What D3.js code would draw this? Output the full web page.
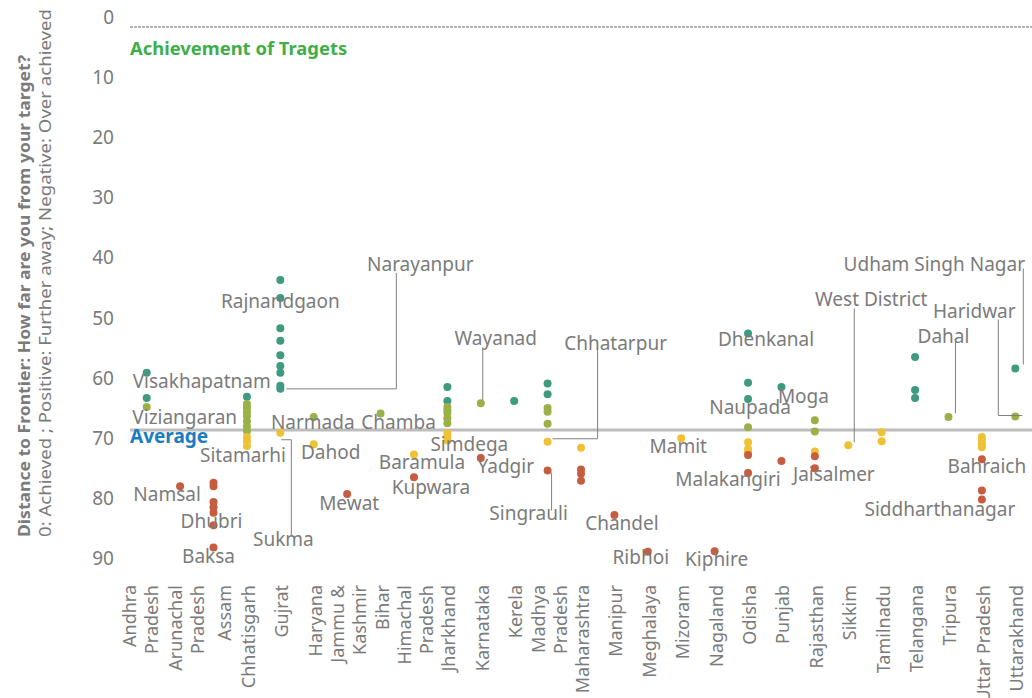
<!DOCTYPE html>
<html>
<head>
<meta charset="utf-8">
<script src="https://cdn.jsdelivr.net/npm/d3@7"></script>
<style>
  body { margin: 0; background: #fff; }
  svg text { font-family: "Noto Sans", sans-serif; }
</style>
</head>
<body>
<svg width="1032" height="698"></svg>
<script>
// states along the x axis
var states = ["Andhra Pradesh", "Arunachal Pradesh", "Assam", "Chhatisgarh", "Gujrat", "Haryana",
  "Jammu & Kashmir", "Bihar", "Himachal Pradesh", "Jharkhand", "Karnataka", "Kerela", "Madhya Pradesh",
  "Maharashtra", "Manipur", "Meghalaya", "Mizoram", "Nagaland", "Odisha", "Punjab", "Rajasthan",
  "Sikkim", "Tamilnadu", "Telangana", "Tripura", "Uttar Pradesh", "Uttarakhand"];

// district scores, one array per colour band
var band1 = [["Andhra Pradesh", 57.5], ["Andhra Pradesh", 61.7], ["Chhatisgarh", 61.5],
  ["Gujrat", 42.1], ["Gujrat", 45.1], ["Gujrat", 50.1], ["Gujrat", 52.2], ["Gujrat", 54.6],
  ["Gujrat", 56.4], ["Gujrat", 57.5], ["Gujrat", 59.7], ["Gujrat", 60.2],
  ["Jharkhand", 59.9], ["Jharkhand", 62.2], ["Kerela", 62.2], ["Madhya Pradesh", 59.3],
  ["Madhya Pradesh", 61.1], ["Odisha", 51.0], ["Odisha", 59.2], ["Odisha", 61.9], ["Punjab", 59.9],
  ["Telangana", 54.9], ["Telangana", 60.4], ["Telangana", 61.7], ["Uttarakhand", 56.8]];

var band2 = [["Andhra Pradesh", 63.2], ["Chhatisgarh", 62.7], ["Chhatisgarh", 63.4], ["Chhatisgarh", 64.1],
  ["Chhatisgarh", 64.7], ["Chhatisgarh", 65.6], ["Chhatisgarh", 66.4], ["Chhatisgarh", 67.2],
  ["Haryana", 64.9], ["Bihar", 64.3], ["Jharkhand", 63.2], ["Jharkhand", 63.7], ["Jharkhand", 64.2],
  ["Jharkhand", 65.1], ["Jharkhand", 65.9], ["Karnataka", 62.6], ["Madhya Pradesh", 63.4],
  ["Madhya Pradesh", 64.0], ["Madhya Pradesh", 66.0], ["Odisha", 66.6], ["Rajasthan", 65.4],
  ["Rajasthan", 67.3], ["Tripura", 64.9], ["Uttarakhand", 64.8]];

var band3 = [["Chhatisgarh", 68.2], ["Chhatisgarh", 68.9], ["Chhatisgarh", 69.7], ["Gujrat", 67.5],
  ["Haryana", 69.4], ["Himachal Pradesh", 71.1], ["Jharkhand", 67.6], ["Jharkhand", 68.2],
  ["Jharkhand", 68.8], ["Madhya Pradesh", 69.0], ["Maharashtra", 70.0], ["Mizoram", 68.4],
  ["Odisha", 69.1], ["Odisha", 70.2], ["Odisha", 70.7], ["Rajasthan", 70.6], ["Sikkim", 69.6],
  ["Tamilnadu", 67.4], ["Tamilnadu", 68.9], ["Uttar Pradesh", 68.2], ["Uttar Pradesh", 68.7],
  ["Uttar Pradesh", 69.4], ["Uttar Pradesh", 69.9]];

var band4 = [["Arunachal Pradesh", 76.4], ["Assam", 75.8], ["Assam", 76.4], ["Assam", 79.0], ["Assam", 79.9],
  ["Assam", 80.8], ["Assam", 82.9], ["Assam", 86.6], ["Jammu & Kashmir", 77.7], ["Himachal Pradesh", 74.9],
  ["Karnataka", 71.7], ["Madhya Pradesh", 73.8], ["Maharashtra", 73.6], ["Maharashtra", 74.3],
  ["Maharashtra", 75.5], ["Manipur", 81.2], ["Meghalaya", 87.3], ["Nagaland", 87.2], ["Odisha", 71.2],
  ["Odisha", 74.2], ["Punjab", 72.2], ["Rajasthan", 71.4], ["Rajasthan", 73.4], ["Uttar Pradesh", 71.9],
  ["Uttar Pradesh", 77.1], ["Uttar Pradesh", 78.6]];

var average = 67.05;
var yTicks = [0, 10, 20, 30, 40, 50, 60, 70, 80, 90];

// named districts: [name, state, score]
var districts = [
  ["Narayanpur", "Gujrat", 60.2], ["Rajnandgaon", "Gujrat", 45.1], ["Visakhapatnam", "Andhra Pradesh", 61.7],
  ["Viziangaran", "Andhra Pradesh", 63.2], ["Narmada", "Haryana", 64.9], ["Chamba", "Bihar", 64.3],
  ["Sitamarhi", "Chhatisgarh", 69.7], ["Dahod", "Haryana", 69.4], ["Namsal", "Arunachal Pradesh", 76.4],
  ["Mewat", "Jammu & Kashmir", 77.7], ["Dhubri", "Assam", 82.9], ["Baksa", "Assam", 86.6],
  ["Sukma", "Gujrat", 67.5], ["Wayanad", "Karnataka", 62.6], ["Chhatarpur", "Madhya Pradesh", 69.0],
  ["Simdega", "Jharkhand", 68.8], ["Yadgir", "Karnataka", 71.7], ["Baramula", "Himachal Pradesh", 71.1],
  ["Kupwara", "Himachal Pradesh", 74.9], ["Singrauli", "Madhya Pradesh", 73.8], ["Chandel", "Manipur", 81.2],
  ["Ribhoi", "Meghalaya", 87.3], ["Kiphire", "Nagaland", 87.2], ["Mamit", "Mizoram", 68.4],
  ["Malakangiri", "Odisha", 74.2], ["Dhenkanal", "Odisha", 51.0], ["Naupada", "Odisha", 66.6],
  ["Moga", "Punjab", 59.9], ["Jaisalmer", "Rajasthan", 73.4], ["West District", "Sikkim", 69.6],
  ["Dahal", "Tripura", 64.9], ["Haridwar", "Uttarakhand", 64.8], ["Udham Singh Nagar", "Uttarakhand", 56.8],
  ["Bahraich", "Uttar Pradesh", 71.9], ["Siddharthanagar", "Uttar Pradesh", 78.6]];

// label placement relative to its dot (dx, dy) and optional leader line points
var labelLayout = {
  "Narayanpur": [140, -118, [[6, 0], [116, 0], [116, -116]]],
  "Rajnandgaon": [0, 10], "Visakhapatnam": [55, -10], "Viziangaran": [38, 17],
  "Narmada": [-1, 12], "Chamba": [18, 15.5], "Sitamarhi": [-4, 16], "Dahod": [17, 15],
  "Namsal": [-13, 15], "Mewat": [2, 16], "Dhubri": [-2, 3], "Baksa": [-5, 15.5],
  "Sukma": [3, 113, [[1, 7], [11, 7], [11, 104]]],
  "Wayanad": [15, -58, [[2, -3], [2, -56]]],
  "Chhatarpur": [68, -92, [[5, -3], [50, -3], [50, -94]]],
  "Simdega": [22, 10.5], "Yadgir": [25, 15], "Baramula": [8, 15], "Kupwara": [17, 17],
  "Singrauli": [-19, 49.5, [[4, 2], [4, 40]]],
  "Chandel": [7.5, 15], "Ribhoi": [-7, 12], "Kiphire": [2, 15], "Mamit": [-3, 15],
  "Malakangiri": [-20, 13], "Dhenkanal": [18, 12], "Naupada": [2, -13], "Moga": [22, 16],
  "Jaisalmer": [19, 13],
  "West District": [23, -139, [[6, -3], [6, -137]]],
  "Dahal": [-5, -74, [[7, -4], [7, -75]]],
  "Haridwar": [-41, -99, [[7, -1], [-17, -1], [-17, -97]]],
  "Udham Singh Nagar": [-81, -97, [[8, -4], [8, -100]]],
  "Bahraich": [5, 14], "Siddharthanagar": [-42, 17]
};

var svg = d3.select("svg");
var x = d3.scaleBand().domain(states).range([130, 1032]);
var y = d3.scaleLinear().domain([0, 90]).range([27, 568]);
var cx = function (s) { return x(s) + x.bandwidth() / 2; };
var grey = "#7b7b7b";

// y axis tick labels (sit a little above their value, as in the original)
svg.append("g").selectAll("text")
  .data(yTicks).enter().append("text")
  .attr("x", 114).attr("y", d => y(d) - 3)
  .attr("text-anchor", "end")
  .attr("font-size", 19).attr("fill", grey)
  .text(d => d);

// zero line
svg.append("line")
  .attr("x1", 130).attr("x2", 1032).attr("y1", y(0)).attr("y2", y(0))
  .attr("stroke", "#9a9a9a").attr("stroke-width", 1.5).attr("stroke-dasharray", "3,1");

svg.append("text").attr("x", 130).attr("y", 55)
  .attr("font-size", 18.4).attr("font-weight", "bold").attr("fill", "#3fae49")
  .text("Achievement of Tragets");

// average line
svg.append("line")
  .attr("x1", 130).attr("x2", 1032).attr("y1", y(average)).attr("y2", y(average))
  .attr("stroke", "#bdbdbd").attr("stroke-width", 3);
svg.append("text").attr("x", 130).attr("y", y(average) + 13)
  .attr("font-size", 19).attr("font-weight", "bold").attr("fill", "#1a7cc3")
  .text("Average");

// y axis title
var title = svg.append("g").attr("transform", "translate(0,537) rotate(-90)");
title.append("text").attr("x", 0).attr("y", 30)
  .attr("font-size", 16.5).attr("font-weight", "bold").attr("fill", grey)
  .attr("textLength", 482).attr("lengthAdjust", "spacingAndGlyphs")
  .text("Distance to Frontier: How far are you from your target?");
title.append("text").attr("x", 0).attr("y", 51)
  .attr("font-size", 17).attr("fill", grey)
  .attr("textLength", 528).attr("lengthAdjust", "spacingAndGlyphs")
  .text("0: Achieved ; Positive: Further away; Negative: Over achieved");

// x axis labels, wrapped like the original (nudge spreads the crowded first ones)
var wraps = { "Andhra Pradesh": 1, "Arunachal Pradesh": 1, "Jammu & Kashmir": 1, "Himachal Pradesh": 1, "Madhya Pradesh": 1 };
var nudge = { "Andhra Pradesh": -8, "Arunachal Pradesh": 5, "Assam": 9 };
var xl = svg.append("g").selectAll("text")
  .data(states).enter().append("text")
  .attr("transform", "rotate(-90)")
  .attr("text-anchor", "end")
  .attr("font-size", 18).attr("fill", grey);
xl.each(function (s) {
  var lines = wraps[s] ? [s.slice(0, s.lastIndexOf(" ")), s.slice(s.lastIndexOf(" ") + 1)] : [s];
  var t = d3.select(this);
  lines.forEach(function (l, i) {
    t.append("tspan")
      .attr("x", -585)
      .attr("y", cx(s) + 2 + (nudge[s] || 0) + (i - (lines.length - 1) / 2) * 22 + 6)
      .text(l);
  });
});

// dots
var series = [[band1, "#3f9a80"], [band2, "#9bb046"], [band3, "#efc135"], [band4, "#c65d40"]];
series.forEach(function (sr) {
  svg.append("g").selectAll("circle")
    .data(sr[0]).enter().append("circle")
    .attr("cx", d => cx(d[0]))
    .attr("cy", d => y(d[1]))
    .attr("r", 4)
    .attr("fill", sr[1]);
});

// district labels and leader lines
var lab = svg.append("g");
districts.forEach(function (d) {
  var px = cx(d[1]), py = y(d[2]);
  var lay = labelLayout[d[0]];
  if (lay[2]) {
    lab.append("path")
      .attr("d", d3.line()(lay[2].map(p => [px + p[0], py + p[1]])))
      .attr("fill", "none").attr("stroke", "#808080").attr("stroke-width", 1);
  }
  lab.append("text")
    .attr("x", px + lay[0]).attr("y", py + lay[1])
    .attr("text-anchor", "middle")
    .attr("font-size", 19).attr("fill", grey)
    .text(d[0]);
});
</script>
</body>
</html>
